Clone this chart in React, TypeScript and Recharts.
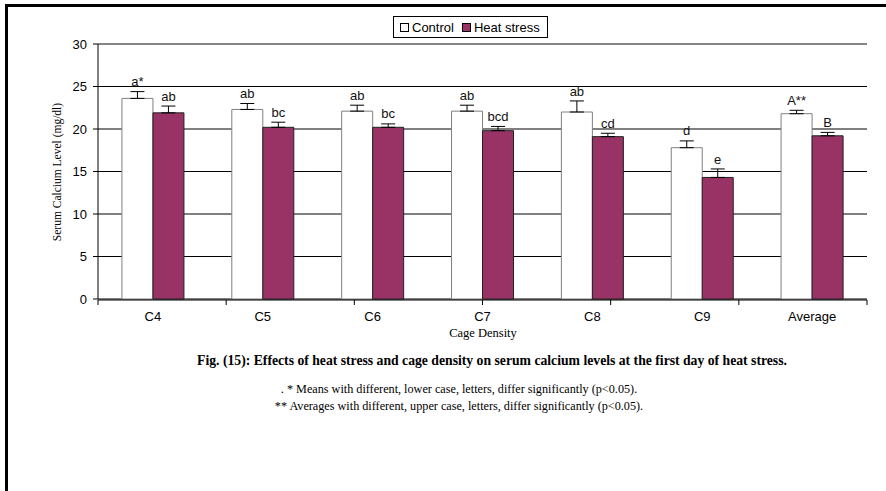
import React from 'react'
import {
  BarChart,
  Bar,
  XAxis,
  YAxis,
  CartesianGrid,
  ErrorBar,
  LabelList,
  Legend,
  ReferenceLine,
} from 'recharts'

const categories = ['C4', 'C5', 'C6', 'C7', 'C8', 'C9', 'Average']
const controlValues = [23.6, 22.3, 22.1, 22.1, 22.0, 17.8, 21.8]
const controlSE = [0.8, 0.7, 0.7, 0.7, 1.3, 0.8, 0.4]
const heatValues = [21.9, 20.2, 20.2, 19.8, 19.1, 14.3, 19.2]
const heatSE = [0.8, 0.6, 0.4, 0.5, 0.4, 1.0, 0.4]
const controlTags = ['a*', 'ab', 'ab', 'ab', 'ab', 'd', 'A**']
const heatTags = ['ab', 'bc', 'bc', 'bcd', 'cd', 'e', 'B']
const yTicks = [0, 5, 10, 15, 20, 25, 30]
const boundaryTicks = [0, 1, 2, 3, 4, 5, 6, 7]

const data = categories.map((cat, i) => ({
  cat,
  control: controlValues[i],
  controlErr: [0, controlSE[i]],
  controlTag: controlTags[i],
  heat: heatValues[i],
  heatErr: [0, heatSE[i]],
  heatTag: heatTags[i],
}))

const W = 886
const H = 491
// both x axes are 1px tall so they sit on the same baseline
const AXIS_H = 1
const M = { top: 44, right: 19, bottom: 192 - 2 * AXIS_H, left: 40 }
const Y_AXIS_W = 58
const Y_MAX = 30
const pxPerUnit = (H - 44 - 192) / Y_MAX

const SANS = '"Liberation Sans", Arial, sans-serif'
const SERIF = '"Liberation Serif", "Times New Roman", serif'
const PLUM = '#993366'

const makeTagLabel = (errs: number[]) => (props: any) => {
  const { x, y, width, value, index } = props
  const err = typeof index === 'number' ? errs[index] : 0
  return (
    <text
      x={Number(x) + Number(width) / 2}
      y={Number(y) - err * pxPerUnit - 10}
      dy="0.35em"
      textAnchor="middle"
      fontSize={13}
      fontFamily={SANS}
      fill="#111"
    >
      {value}
    </text>
  )
}

const LegendBox = () => (
  <div
    style={{
      border: '1px solid #000',
      background: '#fff',
      fontFamily: SANS,
      fontSize: 13,
      display: 'flex',
      alignItems: 'center',
      padding: '1px 7px 1px 6px',
      height: 18,
      whiteSpace: 'nowrap',
    }}
  >
    <span style={{ display: 'inline-block', width: 7, height: 7, border: '1px solid #000', background: '#fff', marginRight: 3 }} />
    <span style={{ marginRight: 8 }}>Control</span>
    <span style={{ display: 'inline-block', width: 7, height: 7, border: '1px solid #000', background: PLUM, marginRight: 3 }} />
    <span>Heat stress</span>
  </div>
)

export default function App() {
  return (
    <div style={{ position: 'absolute', left: 0, top: 0, width: W, height: H, background: '#fff', overflow: 'hidden' }}>
      <div
        style={{
          position: 'absolute',
          left: 5,
          top: 4,
          width: W,
          height: H,
          borderTop: '3px solid #000',
          borderLeft: '3px solid #000',
        }}
      />
      <BarChart
        width={W}
        height={H}
        data={data}
        margin={M}
        barCategoryGap="21.8%"
        barGap={0}
        style={{ position: 'absolute', left: 0, top: 0 }}
      >
        <CartesianGrid vertical={false} stroke="#000" strokeOpacity={1} />
        <XAxis
          xAxisId="edge"
          type="number"
          domain={[0, 7]}
          ticks={boundaryTicks}
          height={AXIS_H}
          axisLine={{ stroke: '#000' }}
          tickLine={{ stroke: '#000' }}
          tickSize={5}
          tickFormatter={() => ''}
        />
        <XAxis
          dataKey="cat"
          xAxisId="cat"
          height={AXIS_H}
          tickLine={false}
          axisLine={false}
          tick={{ fill: '#000', fontSize: 13, fontFamily: SANS }}
          tickMargin={7}
          interval={0}
        />
        <YAxis
          width={Y_AXIS_W}
          domain={[0, Y_MAX]}
          ticks={yTicks}
          interval={0}
          axisLine={{ stroke: '#000' }}
          tickLine={{ stroke: '#000' }}
          tickSize={5}
          tickMargin={6}
          tick={{ fill: '#000', fontSize: 13, fontFamily: SANS }}
        />
        <ReferenceLine xAxisId="edge" y={30} stroke="#8a8a8a" />
        <ReferenceLine xAxisId="edge" x={7} stroke="#8a8a8a" />
        <Legend
          verticalAlign="middle"
          align="center"
          layout="horizontal"
          content={() => <LegendBox />}
          wrapperStyle={{ position: 'absolute', top: 16, left: 393, width: 'auto' }}
        />
        <Bar dataKey="control" xAxisId="cat" fill="#fff" stroke="#808080" strokeWidth={1} isAnimationActive={false}>
          <ErrorBar dataKey="controlErr" direction="y" width={7} stroke="#000" strokeWidth={1} />
          <LabelList dataKey="controlTag" content={makeTagLabel(controlSE)} />
        </Bar>
        <Bar dataKey="heat" xAxisId="cat" fill={PLUM} stroke="#222" strokeWidth={1} isAnimationActive={false}>
          <ErrorBar dataKey="heatErr" direction="y" width={7} stroke="#000" strokeWidth={1} />
          <LabelList dataKey="heatTag" content={makeTagLabel(heatSE)} />
        </Bar>
      </BarChart>
      <div
        style={{
          position: 'absolute',
          left: 57,
          top: 172,
          transform: 'translate(-50%, -50%) rotate(-90deg)',
          fontFamily: SERIF,
          fontSize: 11.5,
          whiteSpace: 'nowrap',
        }}
      >
        Serum Calcium Level (mg/dl)
      </div>
      <div
        style={{
          position: 'absolute',
          left: 483,
          top: 333,
          transform: 'translate(-50%, -50%)',
          fontFamily: SERIF,
          fontSize: 12.5,
          lineHeight: '13px',
          whiteSpace: 'nowrap',
        }}
      >
        Cage Density
      </div>
      <div
        style={{
          position: 'absolute',
          left: 492,
          top: 361,
          transform: 'translate(-50%, -50%)',
          fontFamily: SERIF,
          fontSize: 13.7,
          fontWeight: 'bold',
          whiteSpace: 'nowrap',
        }}
      >
        Fig. (15): Effects of heat stress and cage density on serum calcium levels at the first day of heat stress.
      </div>
      <div
        style={{
          position: 'absolute',
          left: 459,
          top: 381,
          transform: 'translateX(-50%)',
          fontFamily: SERIF,
          fontSize: 12.2,
          lineHeight: '17px',
          textAlign: 'center',
          whiteSpace: 'nowrap',
        }}
      >
        <div>. * Means with different, lower case, letters, differ significantly (p&lt;0.05).</div>
        <div>** Averages with different, upper case, letters, differ significantly (p&lt;0.05).</div>
      </div>
    </div>
  )
}
